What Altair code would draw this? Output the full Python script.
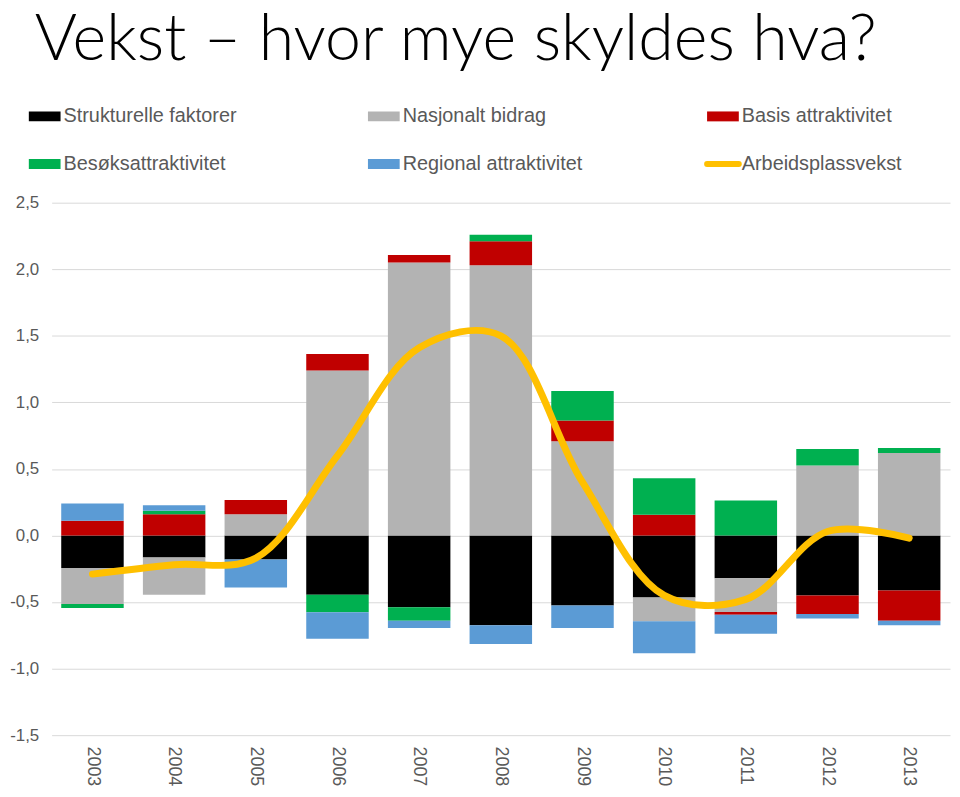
import altair as alt
import pandas as pd

years = ["2003", "2004", "2005", "2006", "2007", "2008", "2009", "2010", "2011", "2012", "2013"]
series_names = ["Strukturelle faktorer", "Nasjonalt bidrag", "Basis attraktivitet",
                "Besøksattraktivitet", "Regional attraktivitet"]
strukturelle = [-0.245, -0.165, -0.18, -0.446, -0.54, -0.675, -0.526, -0.466, -0.322, -0.45, -0.414]
nasjonalt = [-0.27, -0.28, 0.16, 1.24, 2.05, 2.03, 0.707, -0.179, -0.253, 0.526, 0.62]
basis = [0.11, 0.16, 0.107, 0.124, 0.057, 0.18, 0.156, 0.156, -0.02, -0.139, -0.226]
besok = [-0.03, 0.025, 0.0, -0.13, -0.10, 0.05, 0.223, 0.273, 0.263, 0.124, 0.037]
regional = [0.13, 0.042, -0.21, -0.20, -0.055, -0.14, -0.169, -0.24, -0.144, -0.035, -0.035]
arbeidsplassvekst = [-0.29, -0.22, -0.17, 0.60, 1.41, 1.50, 0.40, -0.45, -0.48, 0.03, -0.02]
line_name = "Arbeidsplassvekst"
colors = ["#000000", "#B3B3B3", "#C00000", "#00B050", "#5B9BD5"]
line_color = "#FFC000"
title_text = "Vekst – hvor mye skyldes hva?"
y_ticks = [-1.5, -1.0, -0.5, 0.0, 0.5, 1.0, 1.5, 2.0, 2.5]

FONT = "Liberation Sans"
GREY_TEXT = "#595959"

rows = []
for k, (name, vals) in enumerate(zip(series_names, [strukturelle, nasjonalt, basis, besok, regional])):
    for yr, v in zip(years, vals):
        rows.append({"year": yr, "series": name, "value": v, "ord": k})
bars_df = pd.DataFrame(rows)
line_df = pd.DataFrame({"year": years, "value": arbeidsplassvekst})

legend_df = pd.DataFrame({
    "label": series_names + [line_name],
    "color": colors + [line_color],
    "idx": list(range(6)),
})

x_enc = alt.X("year:N", sort=years, title=None,
              scale=alt.Scale(paddingInner=0.235, paddingOuter=0.1175),
              axis=alt.Axis(labelAngle=90, labelFontSize=18, labelColor=GREY_TEXT, labelFont=FONT,
                            ticks=False, domain=False, labelPadding=11))
y_scale = alt.Scale(domain=[-1.5, 2.5], nice=False, zero=False)
y_axis = alt.Axis(values=y_ticks, grid=True, gridColor="#D9D9D9", gridWidth=1,
                  ticks=False, domain=False, labelFontSize=17, labelColor=GREY_TEXT, labelFont=FONT,
                  labelPadding=13,
                  labelExpr="replace(replace(format(datum.value, '.1f'), '.', ','), '\u2212', '-')")

bars = alt.Chart(bars_df).mark_bar().encode(
    x=x_enc,
    y=alt.Y("value:Q", stack="zero", scale=y_scale, axis=y_axis, title=None),
    color=alt.Color("series:N", scale=alt.Scale(domain=series_names, range=colors), legend=None),
    order=alt.Order("ord:Q", sort="ascending"),
)

line = alt.Chart(line_df).mark_line(color=line_color, strokeWidth=7, interpolate="catmull-rom",
                                    strokeCap="round").encode(
    x=alt.X("year:N", sort=years),
    y=alt.Y("value:Q", scale=y_scale),
)

leg_base = alt.Chart(legend_df).transform_calculate(
    px="-23 + 342 * (datum.idx % 3)",
    py="-87 + 48 * floor(datum.idx / 3)",
    px2="datum.px + 32",
    ptext="datum.px + 35",
    py1="datum.py - 5",
    py2="datum.py + 5",
)
leg_rect = leg_base.transform_filter("datum.idx < 5").mark_rect().encode(
    x=alt.X("px:Q", scale=None), x2="px2:Q",
    y=alt.Y("py1:Q", scale=None), y2="py2:Q",
    color=alt.Color("color:N", scale=None),
)
leg_line = leg_base.transform_filter("datum.idx == 5").mark_rule(strokeWidth=6, strokeCap="round").encode(
    x=alt.X("px:Q", scale=None), x2="px2:Q",
    y=alt.Y("py:Q", scale=None),
    color=alt.Color("color:N", scale=None),
)
leg_text = leg_base.mark_text(align="left", baseline="middle", fontSize=20, font=FONT,
                              color=GREY_TEXT).encode(
    x=alt.X("ptext:Q", scale=None),
    y=alt.Y("py:Q", scale=None),
    text="label:N",
)

title = alt.Chart(pd.DataFrame({"t": [title_text]})).mark_text(
    align="left", baseline="alphabetic", font="Lato", fontWeight=300, fontSize=65, color="#000000"
).encode(x=alt.value(-17), y=alt.value(-144), text="t:N")

chart = alt.layer(bars, line, leg_rect, leg_line, leg_text, title).properties(
    width=906, height=537,
    autosize=alt.AutoSizeParams(type="none"),
    padding={"left": 44, "top": 193, "right": 2, "bottom": 55},
).configure_view(stroke=None)

chart.save("out.html", embed_options={"renderer": "svg", "actions": False})
